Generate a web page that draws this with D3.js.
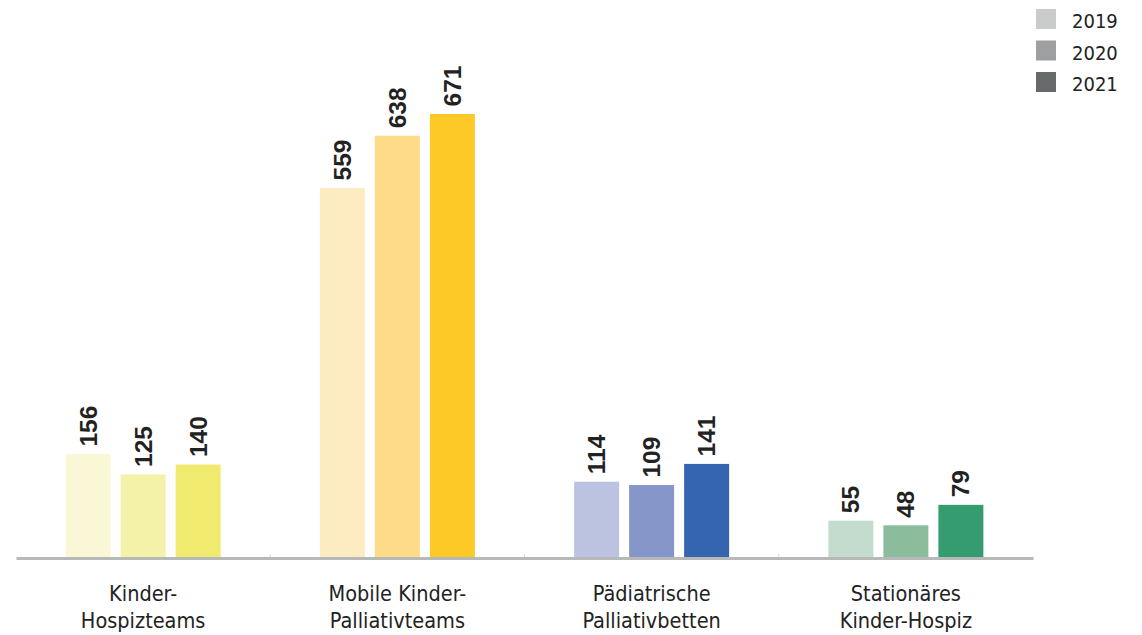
<!DOCTYPE html>
<html>
<head>
<meta charset="utf-8">
<script src="https://cdn.jsdelivr.net/npm/d3@7/dist/d3.min.js"></script>
<style>
  html, body { margin: 0; padding: 0; background: #fff; }
  svg { display: block; }
</style>
</head>
<body>
<svg id="chart" width="1142" height="635"></svg>
<script>
// Categories (two-line labels) and yearly series
const categories = [
  ["Kinder-", "Hospizteams"],
  ["Mobile Kinder-", "Palliativteams"],
  ["Pädiatrische", "Palliativbetten"],
  ["Stationäres", "Kinder-Hospiz"]
];
const years = ["2019", "2020", "2021"];
const values2019 = [156, 559, 114, 55];
const values2020 = [125, 638, 109, 48];
const values2021 = [140, 671, 141, 79];

// One colour ramp per category (light → dark for 2019 → 2021)
const barColors = [
  ["#faf7d6", "#f4f1a9", "#f0eb6f"],
  ["#fdecc1", "#fddb89", "#fdc926"],
  ["#bbc3e1", "#8695c8", "#3565b1"],
  ["#c3dccd", "#8bbd9c", "#349c6e"]
];
const legendColors = ["#cacccb", "#9d9fa0", "#666a6a"];

const series = [values2019, values2020, values2021];

const svg = d3.select("#chart");
const plotLeft = 16, plotRight = 1033, baseline = 557, plotTop = 114;
const condensed = "'DejaVu Sans Condensed', 'Liberation Sans Narrow', sans-serif";

const x0 = d3.scaleBand()
  .domain(d3.range(categories.length))
  .range([plotLeft, plotRight])
  .paddingInner(0)
  .paddingOuter(0);

const x1 = d3.scaleBand()
  .domain(d3.range(years.length))
  .range([0, 155])
  .paddingInner(0.182)
  .paddingOuter(0);

const y = d3.scaleLinear()
  .domain([0, 671])
  .range([baseline, plotTop]);

// Bars
const groups = svg.append("g").selectAll("g")
  .data(categories)
  .join("g")
  .attr("transform", (d, i) => `translate(${x0(i) + x0.bandwidth() / 2 - 77.5},0)`);

groups.each(function (cat, ci) {
  const g = d3.select(this);
  const data = years.map((yr, yi) => ({ yi, v: series[yi][ci] }));
  g.selectAll("rect")
    .data(data)
    .join("rect")
    .attr("x", d => x1(d.yi))
    .attr("width", x1.bandwidth())
    .attr("y", d => y(d.v))
    .attr("height", d => baseline - y(d.v))
    .attr("fill", d => barColors[ci][d.yi]);

  g.selectAll("text.val")
    .data(data)
    .join("text")
    .attr("class", "val")
    .attr("transform", d => `translate(${x1(d.yi) + x1.bandwidth() / 2 + 8.5},${y(d.v) - 7.5}) rotate(-90)`)
    .attr("text-anchor", "start")
    .attr("font-family", "'Liberation Sans', Arial, sans-serif")
    .attr("font-weight", "bold")
    .attr("font-size", 24.5)
    .attr("fill", "#222")
    .text(d => d.v);
});

// Axis line with tick marks at category boundaries
const axis = d3.axisBottom(x0).tickSize(0).tickFormat("");
const axisG = svg.append("g")
  .attr("transform", `translate(0,${baseline + 1})`)
  .call(axis);
axisG.select(".domain").attr("stroke", "#b7b9b8").attr("stroke-width", 3);

svg.append("g").selectAll("line")
  .data(d3.range(1, categories.length))
  .join("line")
  .attr("x1", i => x0(i)).attr("x2", i => x0(i))
  .attr("y1", baseline - 3).attr("y2", baseline)
  .attr("stroke", "#d4d6d5")
  .attr("stroke-width", 1);

// Category labels
const labels = svg.append("g").selectAll("text")
  .data(categories)
  .join("text")
  .attr("x", (d, i) => x0(i) + x0.bandwidth() / 2)
  .attr("y", 601)
  .attr("text-anchor", "middle")
  .attr("font-family", condensed)
  .attr("font-size", 21.5)
  .attr("fill", "#222");
labels.selectAll("tspan")
  .data(d => d)
  .join("tspan")
  .attr("x", function () { return d3.select(this.parentNode).attr("x"); })
  .attr("dy", (d, i) => i === 0 ? 0 : 27)
  .text(d => d);

// Legend
const legend = svg.append("g").selectAll("g")
  .data(years)
  .join("g")
  .attr("transform", (d, i) => `translate(1036,${9 + i * 31.5})`);
legend.append("rect")
  .attr("width", 20).attr("height", 20)
  .attr("fill", (d, i) => legendColors[i]);
legend.append("text")
  .attr("x", 36).attr("y", 19)
  .attr("font-family", condensed)
  .attr("font-size", 20)
  .attr("fill", "#222")
  .text(d => d);
</script>
</body>
</html>
